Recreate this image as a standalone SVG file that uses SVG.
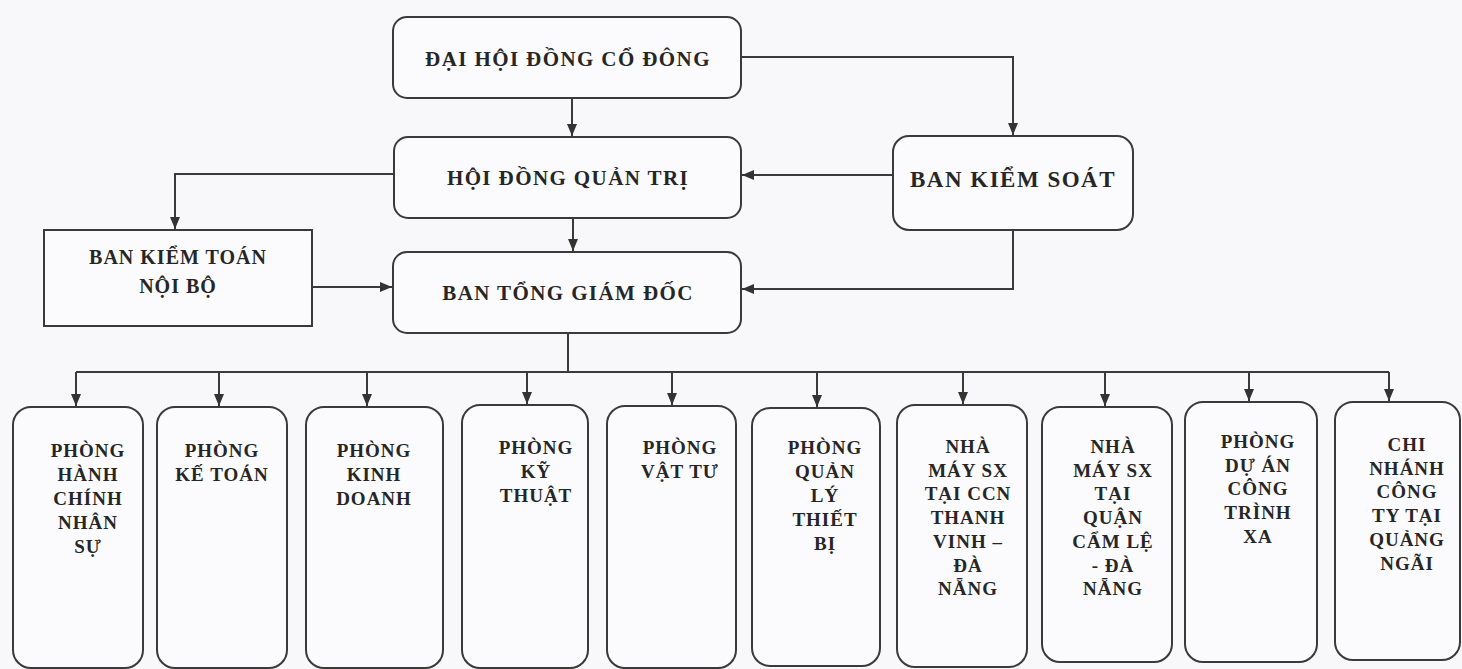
<svg xmlns="http://www.w3.org/2000/svg" width="1462" height="669" viewBox="0 0 1462 669">
<defs>
<marker id="ah" viewBox="0 0 12 10" refX="12" refY="5" markerWidth="12" markerHeight="10" markerUnits="userSpaceOnUse" orient="auto">
<path d="M0,0 L12,5 L0,10 z" fill="#333"/>
</marker>
<style>
.box{fill:#fbfbfd;stroke:#3a3a3a;stroke-width:2}
.t{font-family:"Liberation Serif","Times New Roman",serif;font-weight:bold;fill:#262626;text-anchor:middle}
.top{font-size:21px;letter-spacing:1.4px}
.sm{font-size:19px;letter-spacing:1px}
.mid{font-size:20px;letter-spacing:1px}
.c{fill:none;stroke:#3a3a3a;stroke-width:2}
.a{marker-end:url(#ah)}
</style>
</defs>
<rect width="1462" height="669" fill="#f8f8fa"/>

<g id="connectors">
<path class="c a" d="M572 98 V136"/>
<path class="c a" d="M573 218 V251"/>
<path class="c a" d="M741 57 H1013 V135"/>
<path class="c a" d="M893 175 H742"/>
<path class="c a" d="M1013 230 V289 H742"/>
<path class="c a" d="M394 174 H175 V229"/>
<path class="c a" d="M312 287 H392"/>
<path class="c" d="M568 333 V372"/>
<path class="c" d="M76 372 H1389"/>
<path class="c a" d="M76 372 V406"/>
<path class="c a" d="M219 372 V406"/>
<path class="c a" d="M367 372 V406"/>
<path class="c a" d="M527 372 V404"/>
<path class="c a" d="M672 372 V405"/>
<path class="c a" d="M817 372 V407"/>
<path class="c a" d="M963 372 V404"/>
<path class="c a" d="M1105 372 V406"/>
<path class="c a" d="M1249 372 V401"/>
<path class="c a" d="M1389 372 V401"/>
</g>

<g id="dhdcd">
<rect class="box" x="393" y="17" width="348" height="81" rx="14"/>
<text class="t top" x="568" y="66">ĐẠI HỘI ĐỒNG CỔ ĐÔNG</text>
</g>
<g id="hdqt">
<rect class="box" x="394" y="137" width="347" height="81" rx="14"/>
<text class="t top" x="568" y="185">HỘI ĐỒNG QUẢN TRỊ</text>
</g>
<g id="btgd">
<rect class="box" x="393" y="252" width="348" height="81" rx="14"/>
<text class="t top" x="568" y="300">BAN TỔNG GIÁM ĐỐC</text>
</g>
<g id="bks">
<rect class="box" x="893" y="136" width="240" height="94" rx="16"/>
<text class="t" style="font-size:23px;letter-spacing:1.5px" x="1013" y="187">BAN KIỂM SOÁT</text>
</g>
<g id="bktnb">
<rect class="box" x="44" y="230" width="268" height="96"/>
<text class="t mid" x="178" y="264">BAN KIỂM TOÁN</text>
<text class="t mid" x="178" y="293">NỘI BỘ</text>
</g>

<g id="p1">
<rect class="box" x="13" y="407" width="130" height="261" rx="18"/>
<text class="t sm" x="88" y="457"><tspan x="88">PHÒNG</tspan><tspan x="88" dy="24">HÀNH</tspan><tspan x="88" dy="24">CHÍNH</tspan><tspan x="88" dy="24">NHÂN</tspan><tspan x="88" dy="24">SỰ</tspan></text>
</g>
<g id="p2">
<rect class="box" x="157" y="407" width="130" height="261" rx="18"/>
<text class="t sm" x="222" y="457"><tspan x="222">PHÒNG</tspan><tspan x="222" dy="24">KẾ TOÁN</tspan></text>
</g>
<g id="p3">
<rect class="box" x="306" y="407" width="137" height="261" rx="18"/>
<text class="t sm" x="374" y="457"><tspan x="374">PHÒNG</tspan><tspan x="374" dy="24">KINH</tspan><tspan x="374" dy="24">DOANH</tspan></text>
</g>
<g id="p4">
<rect class="box" x="462" y="405" width="126" height="263" rx="18"/>
<text class="t sm" x="536" y="454"><tspan x="536">PHÒNG</tspan><tspan x="536" dy="24">KỸ</tspan><tspan x="536" dy="24">THUẬT</tspan></text>
</g>
<g id="p5">
<rect class="box" x="607" y="406" width="129" height="262" rx="18"/>
<text class="t sm" x="680" y="454"><tspan x="680">PHÒNG</tspan><tspan x="680" dy="24">VẬT TƯ</tspan></text>
</g>
<g id="p6">
<rect class="box" x="752" y="408" width="128" height="258" rx="18"/>
<text class="t sm" x="825" y="454"><tspan x="825">PHÒNG</tspan><tspan x="825" dy="24">QUẢN</tspan><tspan x="825" dy="24">LÝ</tspan><tspan x="825" dy="24">THIẾT</tspan><tspan x="825" dy="24">BỊ</tspan></text>
</g>
<g id="p7">
<rect class="box" x="897" y="405" width="130" height="262" rx="18"/>
<text class="t sm" x="968" y="453"><tspan x="968">NHÀ</tspan><tspan x="968" dy="23.7">MÁY SX</tspan><tspan x="968" dy="23.7">TẠI CCN</tspan><tspan x="968" dy="23.7">THANH</tspan><tspan x="968" dy="23.7">VINH –</tspan><tspan x="968" dy="23.7">ĐÀ</tspan><tspan x="968" dy="23.7">NẴNG</tspan></text>
</g>
<g id="p8">
<rect class="box" x="1042" y="407" width="130" height="255" rx="18"/>
<text class="t sm" x="1113" y="453"><tspan x="1113">NHÀ</tspan><tspan x="1113" dy="23.7">MÁY SX</tspan><tspan x="1113" dy="23.7">TẠI</tspan><tspan x="1113" dy="23.7">QUẬN</tspan><tspan x="1113" dy="23.7">CẨM LỆ</tspan><tspan x="1113" dy="23.7">- ĐÀ</tspan><tspan x="1113" dy="23.7">NẴNG</tspan></text>
</g>
<g id="p9">
<rect class="box" x="1185" y="402" width="132" height="260" rx="18"/>
<text class="t sm" x="1258" y="448"><tspan x="1258">PHÒNG</tspan><tspan x="1258" dy="23.7">DỰ ÁN</tspan><tspan x="1258" dy="23.7">CÔNG</tspan><tspan x="1258" dy="23.7">TRÌNH</tspan><tspan x="1258" dy="23.7">XA</tspan></text>
</g>
<g id="p10">
<rect class="box" x="1335" y="402" width="125" height="258" rx="18"/>
<text class="t sm" x="1407" y="451"><tspan x="1407">CHI</tspan><tspan x="1407" dy="23.7">NHÁNH</tspan><tspan x="1407" dy="23.7">CÔNG</tspan><tspan x="1407" dy="23.7">TY TẠI</tspan><tspan x="1407" dy="23.7">QUẢNG</tspan><tspan x="1407" dy="23.7">NGÃI</tspan></text>
</g>
</svg>
